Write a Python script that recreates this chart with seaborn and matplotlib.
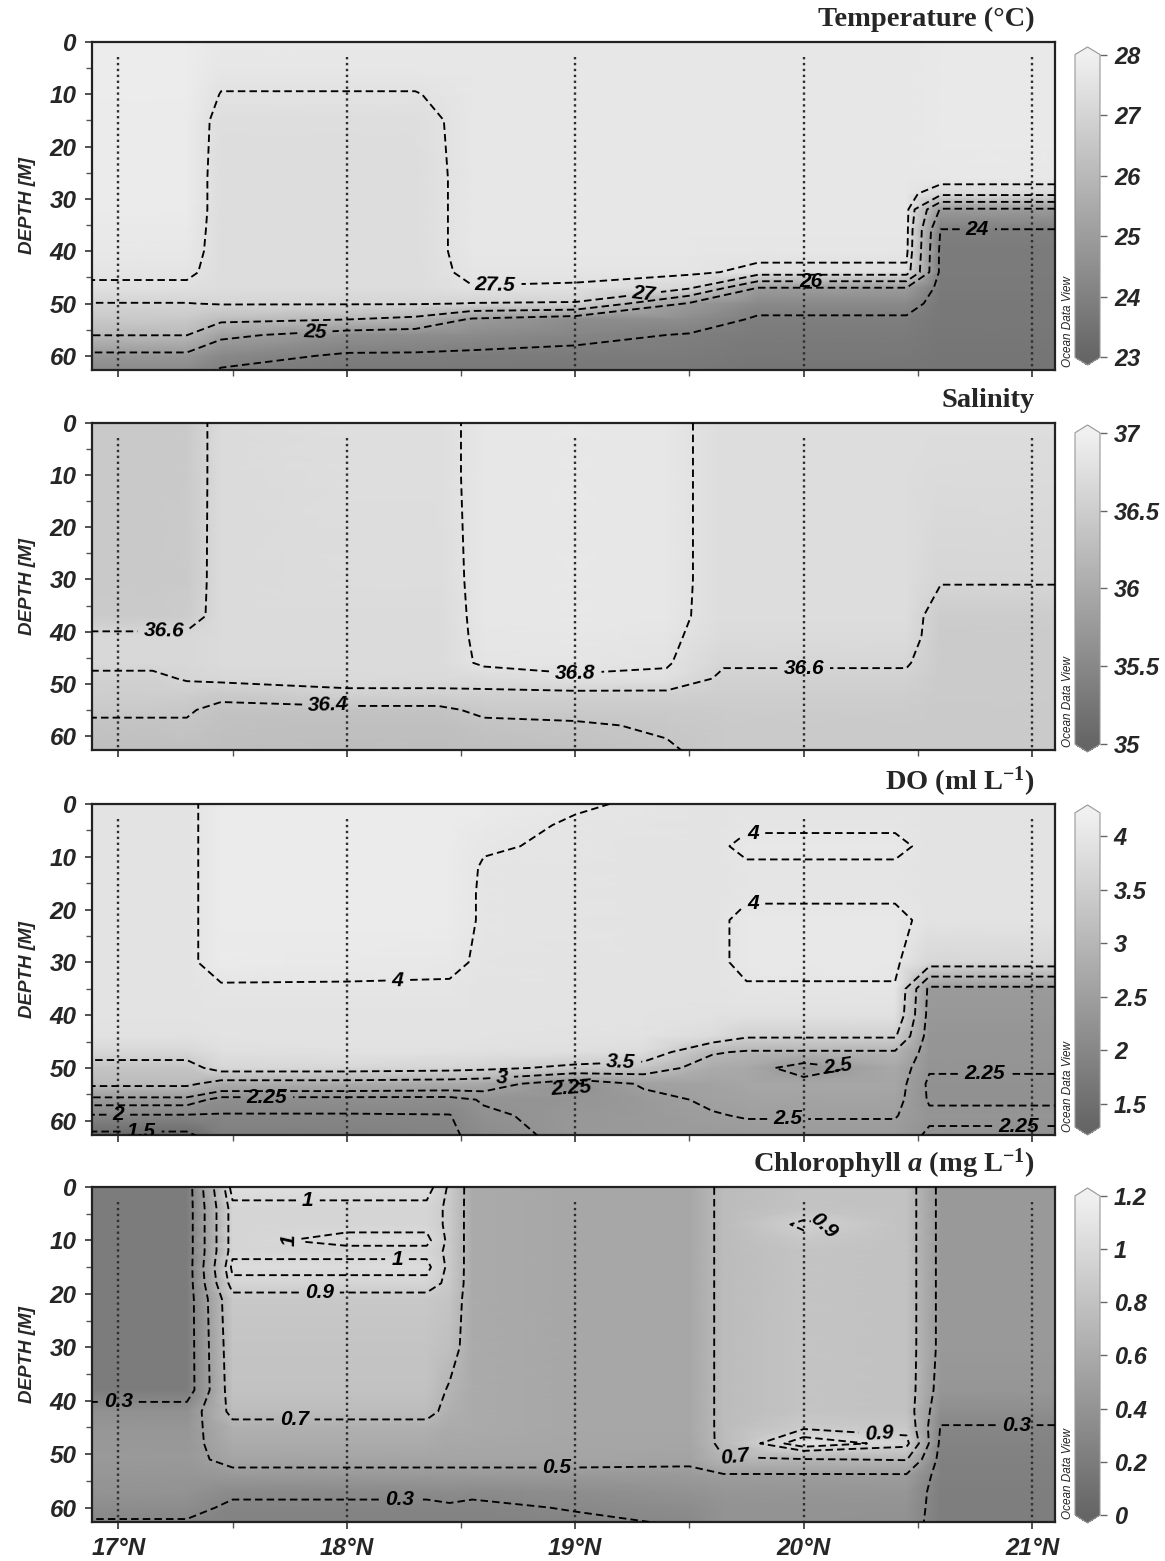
import numpy as np
import matplotlib
matplotlib.use("Agg")
import matplotlib.pyplot as plt
import seaborn as sns

sns.set_style("ticks")
plt.rcParams["font.family"] = ["Liberation Sans", "DejaVu Sans"]
plt.rcParams["font.weight"] = "bold"
plt.rcParams["mathtext.fontset"] = "custom"
plt.rcParams["mathtext.rm"] = "Liberation Serif:style=normal:weight=bold"
plt.rcParams["mathtext.it"] = "Liberation Serif:style=italic:weight=bold"
plt.rcParams["mathtext.bf"] = "Liberation Serif:style=normal:weight=bold"
plt.rcParams["lines.dashed_pattern"] = [4.0, 2.2]

STATIONS = [17, 18, 19, 20, 21]
STATION_TOP = 2.8
LAT_TICKS = [17, 18, 19, 20, 21]
LAT_MINOR = [17.5, 18.5, 19.5, 20.5]
DEPTH_TICKS = [0, 10, 20, 30, 40, 50, 60]

# Temperature (rows = latitude, columns = depth)
TEMP_LAT = [16.88, 17.3, 17.45, 18.0, 18.3, 18.55, 19.0, 19.5, 19.8, 20.45, 20.6, 21.0, 21.1]
TEMP_DEPTH = [0, 5, 10, 15, 26, 29, 32, 36, 40, 44, 47, 50, 53, 56, 60, 63]
TEMP = [
    [27.85, 27.85, 27.85, 27.8, 27.8, 27.8, 27.8, 27.75, 27.7, 27.6, 27.4, 26.98, 26.6, 26.02, 24.8, 24.3],
    [27.85, 27.85, 27.85, 27.8, 27.8, 27.8, 27.8, 27.75, 27.7, 27.6, 27.4, 26.98, 26.6, 26.02, 24.8, 24.3],
    [27.7, 27.65, 27.48, 27.35, 27.3, 27.3, 27.3, 27.3, 27.3, 27.3, 27.3, 27.05, 26.2, 25.2, 24.3, 23.9],
    [27.7, 27.65, 27.48, 27.35, 27.3, 27.3, 27.3, 27.3, 27.3, 27.3, 27.3, 27.05, 26.02, 24.6, 23.9, 23.7],
    [27.7, 27.65, 27.48, 27.35, 27.3, 27.3, 27.3, 27.3, 27.3, 27.3, 27.3, 27.05, 25.8, 24.5, 23.9, 23.7],
    [27.65, 27.65, 27.65, 27.65, 27.65, 27.65, 27.65, 27.65, 27.65, 27.6, 27.48, 26.98, 24.9, 24.4, 23.85, 23.7],
    [27.65, 27.65, 27.65, 27.65, 27.65, 27.65, 27.65, 27.65, 27.65, 27.6, 27.45, 26.95, 24.5, 24.2, 23.8, 23.7],
    [27.65, 27.65, 27.65, 27.65, 27.65, 27.65, 27.65, 27.65, 27.65, 27.58, 27.1, 24.9, 24.45, 23.95, 23.8, 23.7],
    [27.65, 27.65, 27.65, 27.65, 27.65, 27.65, 27.65, 27.65, 27.62, 27.4, 24.98, 24.3, 23.9, 23.8, 23.7, 23.6],
    [27.65, 27.65, 27.65, 27.65, 27.65, 27.65, 27.65, 27.65, 27.62, 27.4, 24.98, 24.3, 23.9, 23.8, 23.7, 23.6],
    [27.75, 27.75, 27.75, 27.75, 27.7, 27.2, 24.9, 23.95, 23.8, 23.8, 23.75, 23.7, 23.7, 23.65, 23.6, 23.6],
    [27.75, 27.75, 27.75, 27.75, 27.7, 27.2, 24.9, 23.95, 23.8, 23.8, 23.75, 23.7, 23.7, 23.65, 23.6, 23.6],
    [27.75, 27.75, 27.75, 27.75, 27.7, 27.2, 24.9, 23.95, 23.8, 23.8, 23.75, 23.7, 23.7, 23.65, 23.6, 23.6],
]
TEMP_LEVELS = [24, 25, 26, 27, 27.5]
TEMP_CTICKS = [23, 24, 25, 26, 27, 28]
TEMP_LABEL_AT = [(18.65, 46.5), (19.3, 48.5), (20.03, 45.5), (17.86, 55.0), (20.76, 35.5)]

# Salinity
SAL_LAT = [16.88, 17.15, 17.3, 17.45, 18.0, 18.4, 18.6, 19.0, 19.4, 19.65, 20.0, 20.45, 20.6, 21.1]
SAL_DEPTH = [0, 10, 30, 37, 41, 46, 49, 52, 55, 58, 63]
SAL = [
    [36.43, 36.43, 36.44, 36.46, 36.65, 36.65, 36.55, 36.5, 36.45, 36.35, 36.3],
    [36.43, 36.43, 36.44, 36.46, 36.65, 36.65, 36.55, 36.5, 36.45, 36.35, 36.3],
    [36.45, 36.45, 36.46, 36.48, 36.65, 36.65, 36.62, 36.5, 36.42, 36.38, 36.3],
    [36.7, 36.7, 36.7, 36.7, 36.7, 36.7, 36.65, 36.45, 36.35, 36.32, 36.3],
    [36.74, 36.74, 36.72, 36.7, 36.7, 36.7, 36.68, 36.55, 36.35, 36.3, 36.28],
    [36.74, 36.74, 36.72, 36.7, 36.7, 36.7, 36.68, 36.55, 36.35, 36.3, 36.28],
    [36.86, 36.86, 36.86, 36.86, 36.85, 36.83, 36.7, 36.55, 36.45, 36.35, 36.3],
    [36.88, 36.88, 36.88, 36.88, 36.87, 36.84, 36.78, 36.55, 36.45, 36.38, 36.32],
    [36.86, 36.86, 36.86, 36.86, 36.84, 36.82, 36.76, 36.55, 36.45, 36.42, 36.38],
    [36.73, 36.73, 36.73, 36.72, 36.7, 36.62, 36.56, 36.5, 36.48, 36.46, 36.45],
    [36.73, 36.73, 36.73, 36.72, 36.7, 36.62, 36.56, 36.5, 36.48, 36.46, 36.45],
    [36.73, 36.73, 36.73, 36.72, 36.7, 36.62, 36.56, 36.5, 36.48, 36.46, 36.45],
    [36.72, 36.7, 36.62, 36.48, 36.47, 36.47, 36.47, 36.47, 36.46, 36.46, 36.45],
    [36.72, 36.7, 36.62, 36.48, 36.47, 36.47, 36.47, 36.47, 36.46, 36.46, 36.45],
]
SAL_LEVELS = [36.4, 36.6, 36.8]
SAL_CTICKS = [35, 35.5, 36, 36.5, 37]
SAL_LABEL_AT = [(17.2, 39.5), (19.0, 48.5), (20.0, 47.0), (17.92, 54.0)]

# Dissolved oxygen
DO_LAT = [16.88, 17.3, 17.45, 18.0, 18.45, 18.6, 19.0, 19.3, 19.6, 19.75, 20.0, 20.4, 20.55, 20.7, 21.1]
DO_DEPTH = [0, 4, 8, 12, 17, 22, 30, 35, 40, 44, 47, 50, 53, 56, 59, 63]
DO = [
    [3.95, 3.95, 3.95, 3.95, 3.95, 3.95, 3.95, 3.95, 3.95, 3.9, 3.7, 3.3, 3.1, 2.4, 1.98, 1.35],
    [3.95, 3.95, 3.95, 3.95, 3.95, 3.95, 3.95, 3.95, 3.95, 3.9, 3.7, 3.3, 3.1, 2.4, 1.98, 1.35],
    [4.1, 4.1, 4.1, 4.1, 4.1, 4.1, 4.1, 3.97, 3.95, 3.95, 3.85, 3.7, 2.8, 2.15, 1.98, 1.8],
    [4.1, 4.1, 4.1, 4.1, 4.1, 4.1, 4.08, 3.97, 3.95, 3.95, 3.9, 3.7, 2.8, 2.15, 1.98, 1.85],
    [4.1, 4.1, 4.1, 4.1, 4.1, 4.1, 4.05, 3.97, 3.95, 3.95, 3.9, 3.65, 2.75, 2.15, 1.99, 1.95],
    [4.1, 4.06, 4.02, 3.98, 3.97, 3.97, 3.96, 3.95, 3.95, 3.95, 3.88, 3.6, 2.7, 2.28, 2.2, 2.1],
    [4.02, 3.98, 3.97, 3.96, 3.96, 3.96, 3.95, 3.95, 3.95, 3.93, 3.85, 3.4, 2.2, 2.3, 2.35, 2.35],
    [3.98, 3.96, 3.95, 3.95, 3.95, 3.95, 3.95, 3.95, 3.95, 3.92, 3.8, 3.3, 2.55, 2.4, 2.4, 2.4],
    [3.95, 3.95, 3.95, 3.95, 3.95, 3.95, 3.95, 3.95, 3.92, 3.8, 3.05, 2.75, 2.6, 2.55, 2.48, 2.4],
    [3.95, 3.97, 4.05, 3.97, 3.97, 4.05, 4.05, 3.98, 3.9, 3.55, 2.95, 2.7, 2.65, 2.6, 2.52, 2.4],
    [3.95, 3.97, 4.05, 3.97, 3.97, 4.05, 4.05, 3.98, 3.9, 3.55, 2.95, 2.3, 2.65, 2.6, 2.52, 2.4],
    [3.95, 3.97, 4.05, 3.97, 3.97, 4.05, 4.05, 3.98, 3.9, 3.55, 2.95, 2.7, 2.65, 2.6, 2.52, 2.4],
    [3.95, 3.95, 3.95, 3.95, 3.95, 3.95, 3.7, 2.4, 2.35, 2.3, 2.3, 2.28, 2.2, 2.22, 2.3, 2.2],
    [3.95, 3.95, 3.95, 3.95, 3.95, 3.95, 3.7, 2.4, 2.35, 2.3, 2.3, 2.28, 2.2, 2.22, 2.3, 2.2],
    [3.95, 3.95, 3.95, 3.95, 3.95, 3.95, 3.7, 2.4, 2.35, 2.3, 2.3, 2.28, 2.2, 2.22, 2.3, 2.2],
]
DO_LEVELS = [1.5, 2, 2.25, 2.5, 3, 3.5, 4]
DO_CTICKS = [1.5, 2, 2.5, 3, 3.5, 4]
DO_LABEL_AT = [(18.22, 30.5), (19.78, 5.5), (19.78, 19.0), (18.68, 51.6), (19.2, 50.0),
               (18.99, 53.5), (17.65, 55.5), (17.0, 59.0), (17.1, 62.0), (19.93, 58.5),
               (20.15, 49.5), (20.79, 51.5), (20.94, 61.0)]

# Chlorophyll a
CHL_LAT = [16.88, 17.3, 17.5, 18.0, 18.35, 18.45, 18.55, 19.0, 19.5, 19.65, 20.0, 20.45, 20.6, 21.1]
CHL_DEPTH = [0, 4, 7, 10, 12, 15, 18, 21, 30, 38, 42, 45, 48, 51, 54, 57, 60, 63]
CHL = [
    [0.2, 0.2, 0.2, 0.2, 0.2, 0.2, 0.2, 0.2, 0.2, 0.2, 0.38, 0.42, 0.44, 0.45, 0.42, 0.4, 0.35, 0.28],
    [0.2, 0.2, 0.2, 0.2, 0.2, 0.2, 0.2, 0.2, 0.2, 0.2, 0.38, 0.42, 0.44, 0.45, 0.42, 0.4, 0.35, 0.28],
    [1.05, 0.97, 0.97, 0.97, 0.97, 1.03, 0.97, 0.85, 0.82, 0.8, 0.75, 0.65, 0.6, 0.55, 0.45, 0.33, 0.27, 0.25],
    [1.05, 0.97, 0.97, 1.03, 0.97, 1.03, 0.97, 0.85, 0.82, 0.8, 0.75, 0.65, 0.6, 0.55, 0.45, 0.33, 0.27, 0.25],
    [1.05, 0.97, 0.97, 1.03, 0.97, 1.03, 0.97, 0.85, 0.82, 0.8, 0.75, 0.65, 0.6, 0.55, 0.45, 0.33, 0.27, 0.25],
    [0.88, 0.87, 0.87, 0.87, 0.87, 0.87, 0.86, 0.82, 0.78, 0.68, 0.65, 0.6, 0.58, 0.55, 0.45, 0.35, 0.28, 0.25],
    [0.6, 0.6, 0.6, 0.6, 0.6, 0.6, 0.6, 0.6, 0.6, 0.6, 0.6, 0.6, 0.58, 0.55, 0.45, 0.33, 0.27, 0.25],
    [0.57, 0.57, 0.57, 0.57, 0.57, 0.57, 0.57, 0.57, 0.57, 0.57, 0.57, 0.57, 0.56, 0.55, 0.45, 0.36, 0.31, 0.27],
    [0.57, 0.57, 0.57, 0.57, 0.57, 0.57, 0.57, 0.57, 0.57, 0.57, 0.57, 0.57, 0.56, 0.53, 0.46, 0.4, 0.35, 0.31],
    [0.75, 0.75, 0.75, 0.75, 0.75, 0.75, 0.75, 0.75, 0.75, 0.75, 0.75, 0.75, 0.75, 0.69, 0.48, 0.42, 0.4, 0.4],
    [0.8, 0.82, 0.93, 0.85, 0.82, 0.82, 0.82, 0.82, 0.82, 0.82, 0.82, 0.88, 1.08, 0.69, 0.48, 0.42, 0.4, 0.4],
    [0.8, 0.8, 0.8, 0.8, 0.8, 0.8, 0.8, 0.8, 0.8, 0.8, 0.8, 0.85, 0.95, 0.71, 0.48, 0.42, 0.4, 0.38],
    [0.45, 0.45, 0.45, 0.45, 0.45, 0.45, 0.45, 0.45, 0.45, 0.42, 0.36, 0.29, 0.26, 0.24, 0.23, 0.22, 0.22, 0.22],
    [0.45, 0.45, 0.45, 0.45, 0.45, 0.45, 0.45, 0.45, 0.45, 0.42, 0.36, 0.29, 0.26, 0.24, 0.23, 0.22, 0.22, 0.22],
]
CHL_LEVELS = [0.3, 0.5, 0.7, 0.9, 1.0]
CHL_CTICKS = [0, 0.2, 0.4, 0.6, 0.8, 1, 1.2]
CHL_LABEL_AT = [(17.83, 2.4), (17.72, 10.0), (18.22, 14.0), (17.88, 19.6), (17.77, 44.0),
                (17.0, 40.3), (18.92, 52.5), (18.23, 58.5), (20.09, 7.5), (20.33, 46.5),
                (19.7, 51.0), (20.93, 44.6)]

# ---------------- layout (pixels of the 1165x1561 canvas) ----------------
W, H = 1165, 1561
AX_X = (92, 1055)
CB_X = (1075, 1100)
AX_Y = [(42, 370), (423, 750), (804, 1135), (1187, 1522)]
CB_Y = [(47, 365), (425, 752), (805, 1135), (1188, 1523)]

CMAP = sns.blend_palette(["#656565", "#f0f0f0"], as_cmap=True)


def rect(x, y):
    return [x[0] / W, 1 - y[1] / H, (x[1] - x[0]) / W, (y[1] - y[0]) / H]


def fmt(v):
    return f"{v:g}"


def section(ax, cax, lat, depth, values, vmin, vmax, levels, label_at, cticks, title, bottom=False):
    X, Y = np.meshgrid(lat, depth)
    Z = np.array(values).T
    mesh = ax.pcolormesh(X, Y, Z, shading="gouraud", cmap=CMAP, vmin=vmin, vmax=vmax,
                         rasterized=True)
    ax.vlines(STATIONS, STATION_TOP, 63, colors="#2e2e2e", linestyles=(0, (1, 1.5)),
              linewidths=1.7, zorder=2)
    cs = ax.contour(X, Y, Z, levels=levels, colors="black", linestyles="--",
                    linewidths=1.35, zorder=3)
    labels = ax.clabel(cs, fmt=fmt, manual=label_at, fontsize=15, inline=True,
                       inline_spacing=6)
    for t in labels:
        t.set_fontstyle("italic")
        t.set_fontweight("bold")

    ax.set_xlim(16.885, 21.1)
    ax.set_ylim(62.7, 0)
    ax.set_xticks(LAT_TICKS, labels=[f"{v}°N" for v in LAT_TICKS] if bottom else [""] * 5)
    ax.set_xticks(LAT_MINOR, minor=True)
    ax.set_yticks(DEPTH_TICKS, labels=[str(v) for v in DEPTH_TICKS])
    ax.set_yticks([5, 15, 25, 35, 45, 55], minor=True)
    ax.tick_params(which="major", length=5, width=1.2, labelsize=17.5, pad=6, color="#333333")
    ax.tick_params(which="minor", length=4, width=1.0, color="#555555")
    for t in ax.get_xticklabels() + ax.get_yticklabels():
        t.set_fontstyle("italic")
        t.set_fontweight("bold")
    for s in ax.spines.values():
        s.set_linewidth(1.6)
        s.set_color("#222222")
    ax.set_ylabel("DEPTH [M]", fontsize=13.5, fontstyle="italic", fontweight="bold")
    ax.yaxis.set_label_coords(-0.058, 0.5)

    ax.text(0.979, 1.068, title, transform=ax.transAxes, ha="right", va="center",
            fontsize=20.5, fontweight="bold", family=["Liberation Serif", "DejaVu Serif"])
    ax.text(1.0135, 0.01, "Ocean Data View", transform=ax.transAxes, rotation=90,
            ha="center", va="bottom", fontsize=8.5, fontstyle="italic", fontweight="normal",
            color="#222222")

    cb = ax.figure.colorbar(mesh, cax=cax, extend="both", extendfrac=0.025)
    cb.set_ticks(cticks, labels=[fmt(v) for v in cticks])
    cb.outline.set_edgecolor("#999999")
    cb.outline.set_linewidth(0.8)
    cax.tick_params(length=5, width=1, color="#666666", labelsize=17, pad=5)
    for t in cax.get_yticklabels():
        t.set_fontstyle("italic")
        t.set_fontweight("bold")


fig = plt.figure(figsize=(W / 100, H / 100), dpi=100)

panels = [
    (TEMP_LAT, TEMP_DEPTH, TEMP, 23, 28, TEMP_LEVELS, TEMP_LABEL_AT, TEMP_CTICKS,
     "Temperature (°C)"),
    (SAL_LAT, SAL_DEPTH, SAL, 35, 37, SAL_LEVELS, SAL_LABEL_AT, SAL_CTICKS, "Salinity"),
    (DO_LAT, DO_DEPTH, DO, 1.28, 4.22, DO_LEVELS, DO_LABEL_AT, DO_CTICKS,
     r"DO (ml L$^{-1}$)"),
    (CHL_LAT, CHL_DEPTH, CHL, 0, 1.2, CHL_LEVELS, CHL_LABEL_AT, CHL_CTICKS,
     r"Chlorophyll $a$ (mg L$^{-1}$)"),
]

for i, p in enumerate(panels):
    ax = fig.add_axes(rect(AX_X, AX_Y[i]))
    cax = fig.add_axes(rect(CB_X, CB_Y[i]))
    section(ax, cax, *p, bottom=(i == 3))

fig.savefig("out.png", dpi=100)
